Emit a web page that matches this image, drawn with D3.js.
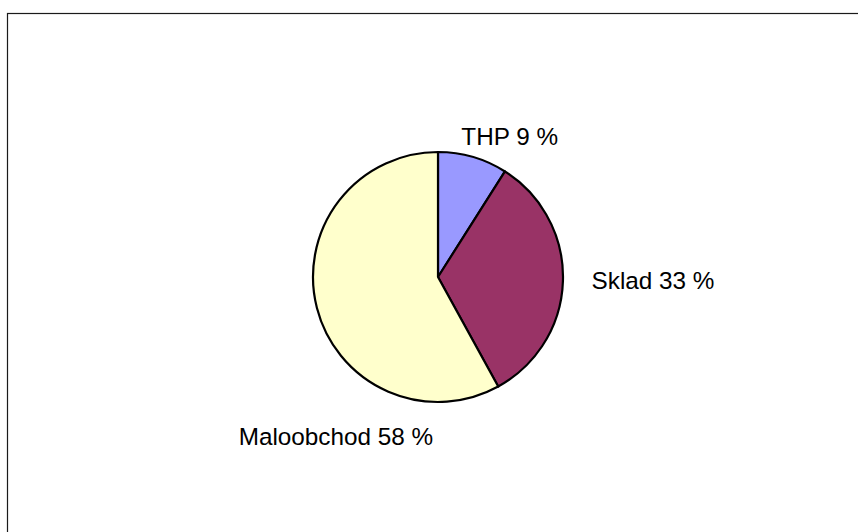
<!DOCTYPE html>
<html>
<head>
<meta charset="utf-8">
<script src="https://cdn.jsdelivr.net/npm/d3@7"></script>
<style>
  html, body { margin: 0; padding: 0; background: #fff; }
  svg { display: block; }
</style>
</head>
<body>
<svg id="chart" width="858" height="532"></svg>
<script>
// data
var categories = ["THP", "Sklad", "Maloobchod"];
var values = [9, 33, 58];
var colors = ["#9999ff", "#993366", "#ffffcc"];

// label placement around the pie (degrees clockwise from top, distance from centre)
var labelAngle = [27, 90.8, 212.7];
var labelRadius = [158, 215, 189];

make_chart = function () {
    var width = 858, height = 532;
    var cx = 438, cy = 277, radius = 125;

    var svg = d3.select("#chart");

    // chart area frame
    svg.append("rect")
        .attr("x", 7.5)
        .attr("y", 13.5)
        .attr("width", width)
        .attr("height", height)
        .attr("fill", "#fff")
        .attr("stroke", "#1a1a1a")
        .attr("stroke-width", 1.2);

    var data = categories.map(function (c, i) {
        return { name: c, value: values[i], color: colors[i], i: i };
    });

    var pie = d3.pie()
        .sort(null)
        .value(d => d.value);

    var arc = d3.arc()
        .innerRadius(0)
        .outerRadius(radius);

    var arcs = pie(data);

    var g = svg.append("g")
        .attr("transform", `translate(${cx},${cy})`);

    g.selectAll("path")
        .data(arcs)
        .join("path")
        .attr("fill", d => d.data.color)
        .attr("stroke", "#000")
        .attr("stroke-width", 2.2)
        .attr("stroke-linejoin", "round")
        .attr("d", arc);

    g.selectAll("text")
        .data(arcs)
        .join("text")
        .attr("transform", d => {
            var p = d3.pointRadial(labelAngle[d.data.i] * Math.PI / 180, labelRadius[d.data.i]);
            return `translate(${p})`;
        })
        .attr("text-anchor", "middle")
        .attr("dy", "0.36em")
        .attr("font-family", "Arial, 'Liberation Sans', sans-serif")
        .attr("font-size", 24.3)
        .attr("fill", "#000")
        .text(d => `${d.data.name} ${d.data.value} %`);
}

make_chart();
</script>
</body>
</html>
